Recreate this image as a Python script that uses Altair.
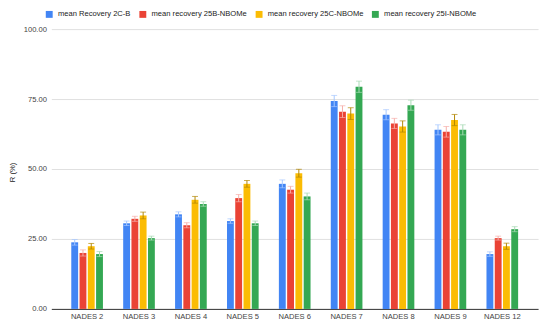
import altair as alt
import pandas as pd

categories = ["NADES 2", "NADES 3", "NADES 4", "NADES 5", "NADES 6",
              "NADES 7", "NADES 8", "NADES 9", "NADES 12"]
series = ["mean Recovery 2C-B", "mean recovery 25B-NBOMe",
          "mean recovery 25C-NBOMe", "mean recovery 25I-NBOMe"]

blue = [23.8, 30.6, 33.8, 31.4, 44.7, 74.3, 69.4, 64.0, 19.6]
red = [20.0, 32.2, 29.9, 39.6, 42.6, 70.5, 66.3, 63.3, 25.3]
yellow = [22.4, 33.4, 39.0, 44.7, 48.5, 69.8, 65.2, 67.5, 22.4]
green = [19.6, 25.3, 37.5, 30.6, 40.2, 79.4, 72.8, 64.0, 28.5]

blue_err = [1.0, 0.8, 0.9, 0.8, 1.4, 2.0, 1.8, 1.8, 0.8]
red_err = [1.1, 0.9, 0.9, 1.3, 1.2, 2.1, 1.8, 1.9, 0.7]
yellow_err = [1.0, 1.2, 1.2, 1.2, 1.4, 2.1, 2.0, 2.0, 1.1]
green_err = [0.9, 0.7, 0.8, 0.8, 1.2, 2.0, 1.8, 1.8, 0.9]

bar_colors = ["#4285F4", "#EA4335", "#FBBC04", "#34A853"]
err_colors = ["#a6c8ff", "#f6aea9", "#b28704", "#a8dab5"]

rows = []
for s, vals, errs in zip(series, [blue, red, yellow, green],
                         [blue_err, red_err, yellow_err, green_err]):
    for c, v, e in zip(categories, vals, errs):
        rows.append({"cat": c, "series": s, "value": v,
                     "lo": v - e, "hi": v + e})
df = pd.DataFrame(rows)

FONT = "Liberation Sans"
FS = 7.7

x = alt.X("cat:N", sort=categories,
          scale=alt.Scale(paddingInner=0.39, paddingOuter=0.384),
          axis=alt.Axis(title=None, labelAngle=0, ticks=False, labelPadding=4,
                        domainColor="#333333", labelColor="#444444",
                        labelFont=FONT, labelFontSize=FS, grid=False))
xoff = alt.XOffset("series:N", sort=series,
                   scale=alt.Scale(paddingInner=0.17, paddingOuter=0))

base = alt.Chart(df)

bars = base.mark_bar().encode(
    x=x,
    xOffset=xoff,
    y=alt.Y("value:Q", scale=alt.Scale(domain=[0, 100]),
            axis=alt.Axis(title="R (%)", values=[0, 25, 50, 75, 100],
                          format=".2f", ticks=False, domain=False,
                          labelPadding=5, labelColor="#444444",
                          labelFont=FONT, labelFontSize=FS,
                          gridColor="#e0e0e0", gridWidth=1,
                          titleFont=FONT, titleFontSize=FS,
                          titleFontWeight="normal", titleColor="#222222",
                          titleAngle=-90, titleX=-39, titleY=145,
                          titleBaseline="middle", titleAlign="center")),
    color=alt.Color("series:N", sort=series,
                    scale=alt.Scale(domain=series, range=bar_colors),
                    legend=alt.Legend(title=None, orient="none",
                                      direction="horizontal",
                                      legendX=-6, legendY=-19,
                                      symbolType="square", symbolSize=49,
                                      symbolStrokeWidth=0,
                                      labelFont=FONT, labelFontSize=FS,
                                      labelColor="#222222",
                                      labelOffset=5, columnPadding=8)),
)

err_color = alt.Color("series:N", sort=series,
                      scale=alt.Scale(domain=series, range=err_colors),
                      legend=None)

rules = base.mark_rule(strokeWidth=1).encode(
    x=alt.X("cat:N", sort=categories), xOffset=xoff,
    y="lo:Q", y2="hi:Q", color=err_color)
caps_hi = base.mark_tick(size=6, thickness=1).encode(
    x=alt.X("cat:N", sort=categories), xOffset=xoff,
    y="hi:Q", color=err_color)
caps_lo = base.mark_tick(size=6, thickness=1).encode(
    x=alt.X("cat:N", sort=categories), xOffset=xoff,
    y="lo:Q", color=err_color)

chart = alt.layer(bars, rules, caps_hi, caps_lo).resolve_scale(
    color="independent"
).properties(
    width=494, height=284,
    autosize=alt.AutoSizeParams(type="none"),
    padding={"left": 44, "top": 19, "right": 4, "bottom": 20},
    background="white",
).configure_view(stroke=None)

chart.save("out.html", embed_options={"renderer": "svg", "actions": False})
